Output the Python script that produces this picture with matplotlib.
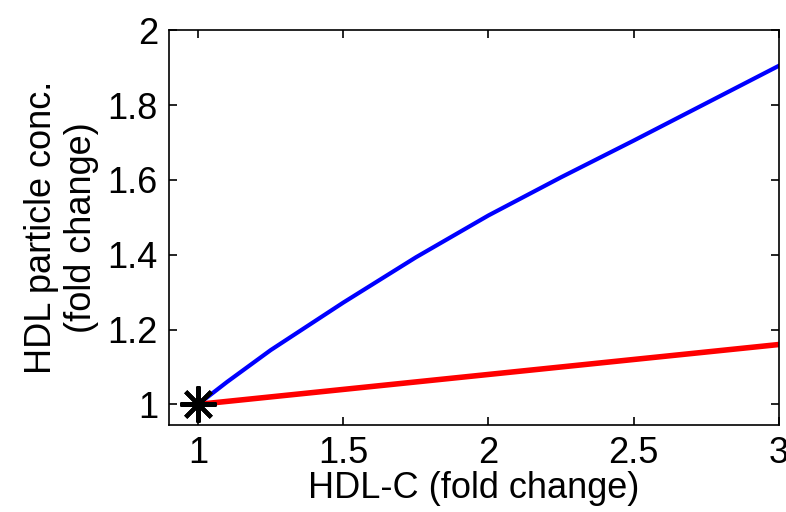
import matplotlib.pyplot as plt

plt.rcParams["font.family"] = ["Liberation Sans", "DejaVu Sans"]

# data
hdl_c = [1.0, 1.1, 1.25, 1.5, 1.75, 2.0, 2.25, 2.5, 2.75, 3.0]
particle_blue = [1.0, 1.06, 1.145, 1.272, 1.393, 1.505, 1.607, 1.705, 1.805, 1.905]
particle_red = [1.0, 1.008, 1.02, 1.04, 1.06, 1.08, 1.10, 1.12, 1.14, 1.16]
start_x, start_y = [1.0], [1.0]

fig = plt.figure(figsize=(7.86, 5.12), dpi=100)
ax = fig.add_axes([0.215, 0.170, 0.776, 0.771])

ax.plot(hdl_c, particle_blue, color="#0000ff", linewidth=3)
ax.plot(hdl_c, particle_red, color="#ff0000", linewidth=4)
ax.plot(start_x, start_y, marker=(8, 2, 0), color="black", markersize=26,
        markeredgewidth=3, linestyle="none", clip_on=False)

ax.set_xlim(0.9, 3)
ax.set_ylim(0.945, 2)
ax.set_xticks([1, 1.5, 2, 2.5, 3])
ax.set_xticklabels(["1", "1.5", "2", "2.5", "3"])
ax.set_yticks([1, 1.2, 1.4, 1.6, 1.8, 2])
ax.set_yticklabels(["1", "1.2", "1.4", "1.6", "1.8", "2"])
ax.tick_params(direction="in", length=6, width=1.2, labelsize=26,
               top=True, right=True, pad=8)
for s in ax.spines.values():
    s.set_linewidth(1.2)

ax.set_xlabel("HDL-C (fold change)", fontsize=26, labelpad=0)
ax.set_ylabel("HDL particle conc.\n(fold change)", fontsize=26, labelpad=6,
              linespacing=1.2)

fig.savefig("out.png", dpi=100)
